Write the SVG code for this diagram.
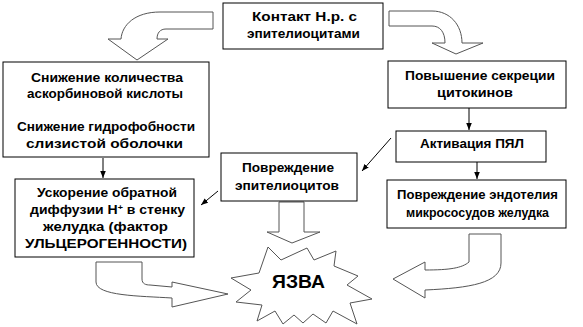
<svg xmlns="http://www.w3.org/2000/svg" width="583" height="327" viewBox="0 0 583 327">
<style>
.box{fill:#fff;stroke:#000;stroke-width:1}
.big{fill:#fff;stroke:#555;stroke-width:1;stroke-linejoin:miter}
.t{font-family:"Liberation Sans",Arial,sans-serif;font-weight:bold;font-size:12.5px;fill:#000;text-anchor:middle}
.ln{stroke:#000;stroke-width:1;fill:none;marker-end:url(#ah)}
</style>
<defs>
<marker id="ah" viewBox="0 0 10 10" refX="10" refY="5" markerWidth="7" markerHeight="7" orient="auto">
<path d="M0,1 L10,5 L0,9 z" fill="#000"/>
</marker>
</defs>
<rect width="583" height="327" fill="#fff"/>

<g id="connectors">
<path class="big" d="M213,12 L160,12 C135,12 122,25 121,39 L108,39 L137,60 L168,39 L157,39 C157,33 160,29 166,29 L213,29 Z"/>
<path class="big" d="M389,11 L432,11 C450,11 462,25 462,43 L483,43 L456,54 L432,43 L445,43 C445,32 440,26 432,26 L389,26 Z"/>
<path class="big" d="M96,262 L142,262 L142,279 C142,284 146,285 150,285 L172,287 L172,282 L228,294 L172,307 L172,298 C140,296 96,296 96,282 Z"/>
<path class="big" d="M469,234 L501,234 L501,263 C501,283 470,288 425,290 L425,298 L393,279 L425,262 L425,270 C450,270 462,268 469,262 Z"/>
<path class="big" d="M279,202 L304,202 L304,232 L320,232 L292,243 L267,232 L279,232 Z"/>
<line class="ln" x1="103" y1="158" x2="103" y2="178"/>
<line class="ln" x1="469" y1="108" x2="469" y2="130"/>
<line class="ln" x1="477" y1="162" x2="477" y2="179"/>
<line class="ln" x1="391" y1="138" x2="362" y2="171"/>
<line class="ln" x1="218" y1="191" x2="201" y2="205"/>
</g>

<g id="star">
<polygon class="big" points="268,247 281,260 307,248 314,260 336,251 334,266 358,276 347,285 372,299 350,303 357,324 333,311 326,323 313,314 303,323 294,315 283,324 275,311 257,321 262,305 236,302 251,290 231,278 259,273"/>
<text class="t" x="298.5" y="288" style="font-size:18px" textLength="53" lengthAdjust="spacingAndGlyphs">ЯЗВА</text>
</g>

<g id="contact">
<rect class="box" x="223" y="3" width="160" height="46"/>
<text class="t" x="304.5" y="21" textLength="105" lengthAdjust="spacingAndGlyphs">Контакт Н.р. с</text>
<text class="t" x="303.5" y="38" textLength="113" lengthAdjust="spacingAndGlyphs">эпителиоцитами</text>
</g>

<g id="ascorbic">
<rect class="box" x="3" y="62" width="206" height="95"/>
<text class="t" x="107" y="82" textLength="152" lengthAdjust="spacingAndGlyphs">Снижение количества</text>
<text class="t" x="105" y="98" textLength="156" lengthAdjust="spacingAndGlyphs">аскорбиновой кислоты</text>
<text class="t" x="106" y="131" textLength="178" lengthAdjust="spacingAndGlyphs">Снижение гидрофобности</text>
<text class="t" x="104.5" y="148" textLength="157" lengthAdjust="spacingAndGlyphs">слизистой оболочки</text>
</g>

<g id="cytokines">
<rect class="box" x="388" y="61" width="178" height="47"/>
<text class="t" x="480" y="80" textLength="150" lengthAdjust="spacingAndGlyphs">Повышение секреции</text>
<text class="t" x="475" y="97" textLength="76" lengthAdjust="spacingAndGlyphs">цитокинов</text>
</g>

<g id="pmn">
<rect class="box" x="396" y="131" width="150" height="31"/>
<text class="t" x="472" y="148" textLength="104" lengthAdjust="spacingAndGlyphs">Активация ПЯЛ</text>
</g>

<g id="epithelial">
<rect class="box" x="221" y="153" width="136" height="48"/>
<text class="t" x="288" y="172" textLength="92" lengthAdjust="spacingAndGlyphs">Повреждение</text>
<text class="t" x="287" y="190" textLength="104" lengthAdjust="spacingAndGlyphs">эпителиоцитов</text>
</g>

<g id="diffusion">
<rect class="box" x="15" y="179" width="179" height="78"/>
<text class="t" x="107" y="197" textLength="140" lengthAdjust="spacingAndGlyphs">Ускорение обратной</text>
<text class="t" x="107.5" y="214" textLength="155" lengthAdjust="spacingAndGlyphs">диффузии Н<tspan font-size="8" baseline-shift="super">+</tspan> в стенку</text>
<text class="t" x="105.5" y="231" textLength="125" lengthAdjust="spacingAndGlyphs">желудка (фактор</text>
<text class="t" x="106" y="248" textLength="162" lengthAdjust="spacingAndGlyphs">УЛЬЦЕРОГЕННОСТИ)</text>
</g>

<g id="endothelium">
<rect class="box" x="387" y="180" width="179" height="48"/>
<text class="t" x="477.5" y="199" textLength="161" lengthAdjust="spacingAndGlyphs">Повреждение эндотелия</text>
<text class="t" x="477.5" y="217" textLength="143" lengthAdjust="spacingAndGlyphs">микрососудов желудка</text>
</g>
</svg>
